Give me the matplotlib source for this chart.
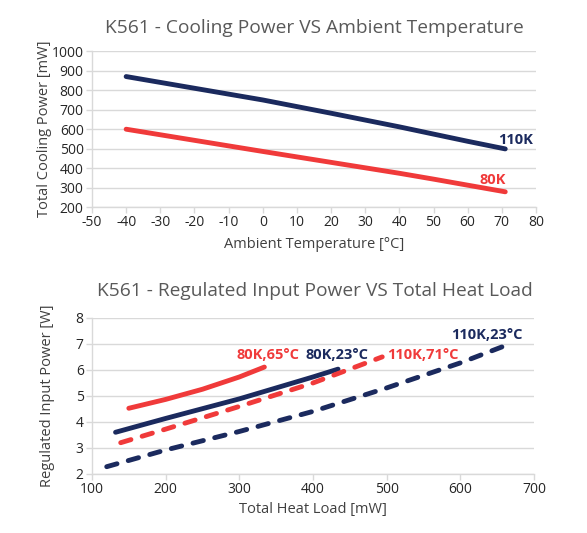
import matplotlib
matplotlib.use("Agg")
import matplotlib.pyplot as plt

plt.rcParams["font.family"] = ["Open Sans", "DejaVu Sans"]
plt.rcParams["axes.unicode_minus"] = False

# -----------------------------
# Cooling power vs ambient temperature
# -----------------------------
ambient_110k = [-40, -20, 0, 20, 40, 60, 71]
cooling_110k = [869, 809, 749, 681, 611, 537, 498]

ambient_80k = [-40, -20, 0, 20, 40, 50, 60, 71]
cooling_80k = [599, 542, 485, 429, 373, 343, 312, 278]

# -----------------------------
# Input power vs heat load
# -----------------------------
load_80k_65 = [150, 200, 250, 300, 334]
power_80k_65 = [4.52, 4.86, 5.25, 5.72, 6.1]

load_80k_23 = [132, 200, 300, 400, 434]
power_80k_23 = [3.6, 4.13, 4.88, 5.72, 6.02]

load_110k_71 = [139, 200, 300, 400, 494]
power_110k_71 = [3.2, 3.72, 4.59, 5.49, 6.49]

load_110k_23 = [120, 200, 300, 400, 500, 600, 671]
power_110k_23 = [2.28, 2.92, 3.63, 4.40, 5.30, 6.26, 7.03]

NAVY = "#1b2a5e"
RED = "#f03a3a"
GRID = "#d9d9d9"
TEXT = "#404040"


def style_axes(ax):
    for side in ["top", "right"]:
        ax.spines[side].set_visible(False)
    for side in ["left", "bottom"]:
        ax.spines[side].set_color(GRID)
        ax.spines[side].set_linewidth(1)
    ax.grid(axis="y", color=GRID, linewidth=1)
    ax.set_axisbelow(True)
    ax.tick_params(colors=GRID, labelcolor="#262626", labelsize=10,
                   length=4, width=1, direction="out", pad=2)


fig = plt.figure(figsize=(5.87, 5.33), dpi=100)

# top chart
ax1 = fig.add_axes([0.1567, 0.6116, 0.7564, 0.2927])
ax1.plot(ambient_110k, cooling_110k, color=NAVY, lw=3.5, solid_capstyle="round")
ax1.plot(ambient_80k, cooling_80k, color=RED, lw=3.5, solid_capstyle="round")
ax1.set_xlim(-50, 80)
ax1.set_ylim(200, 1000)
ax1.set_xticks(range(-50, 81, 10))
ax1.set_yticks(range(200, 1001, 100))
style_axes(ax1)
ax1.set_xlabel("Ambient Temperature [°C]", fontsize=10.5, color=TEXT)
ax1.set_ylabel("Total Cooling Power [mW]", fontsize=10.5, color=TEXT)
ax1.xaxis.set_label_coords(0.5, -0.19)
ax1.yaxis.set_label_coords(-0.09, 0.5)
ax1.text(69, 543, "110K", color=NAVY, fontsize=10.5, fontweight="bold",
         ha="left", va="center")
ax1.text(63.4, 338, "80K", color=RED, fontsize=10.5, fontweight="bold",
         ha="left", va="center")
fig.text(314 / 587, 1 - 28 / 533, "K561 - Cooling Power VS Ambient Temperature",
         ha="center", va="center", fontsize=13.8, color="#595959")

# bottom chart
ax2 = fig.add_axes([0.1567, 0.1107, 0.753, 0.2936])
ax2.plot(load_80k_65, power_80k_65, color=RED, lw=3.5, solid_capstyle="round")
ax2.plot(load_80k_23, power_80k_23, color=NAVY, lw=3.5, solid_capstyle="round")
ax2.plot(load_110k_71, power_110k_71, color=RED, lw=3.5,
         dashes=(2.2, 2.4), dash_capstyle="round")
ax2.plot(load_110k_23, power_110k_23, color=NAVY, lw=3.5,
         dashes=(2.2, 2.4), dash_capstyle="round")
ax2.set_xlim(100, 700)
ax2.set_ylim(2, 8)
ax2.set_xticks(range(100, 701, 100))
ax2.set_yticks(range(2, 9))
style_axes(ax2)
ax2.set_xlabel("Total Heat Load [mW]", fontsize=10.5, color=TEXT)
ax2.set_ylabel("Regulated Input Power [W]", fontsize=10.5, color=TEXT)
ax2.xaxis.set_label_coords(0.5, -0.179)
ax2.yaxis.set_label_coords(-0.084, 0.5)
ax2.text(296, 6.58, "80K,65°C", color=RED, fontsize=10.5, fontweight="bold",
         ha="left", va="center")
ax2.text(390, 6.58, "80K,23°C", color=NAVY, fontsize=10.5, fontweight="bold",
         ha="left", va="center")
ax2.text(500, 6.58, "110K,71°C", color=RED, fontsize=10.5, fontweight="bold",
         ha="left", va="center")
ax2.text(587, 7.32, "110K,23°C", color=NAVY, fontsize=10.5, fontweight="bold",
         ha="left", va="center")
fig.text(315 / 587, 1 - 291 / 533, "K561 - Regulated Input Power VS Total Heat Load",
         ha="center", va="center", fontsize=13.8, color="#595959")

fig.savefig("out.png", dpi=100)
